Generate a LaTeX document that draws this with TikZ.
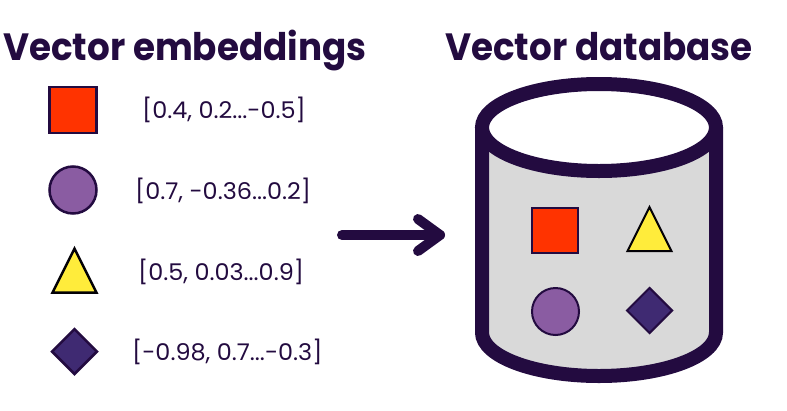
\documentclass[tikz,border=0pt]{standalone}
\usepackage{fontspec}
\setmainfont{Poppins}
\usetikzlibrary{shapes.geometric}
\definecolor{ink}{HTML}{230B40}
\definecolor{sqred}{HTML}{FF3300}
\definecolor{circpurple}{HTML}{8A5CA2}
\definecolor{triyellow}{HTML}{FFEC3B}
\definecolor{diapurple}{HTML}{3F2A72}
\definecolor{dbgray}{HTML}{D9D9D9}
\newcommand{\ttlbox}[1]{\scalebox{0.94}[1]{#1}}
\newcommand{\vecbox}[1]{\scalebox{1.04}[1]{#1}}
\tikzset{
  title/.style={font=\fontsize{38}{38}\selectfont\bfseries, text=ink, inner sep=0pt, anchor=base west},
  vec/.style={font=\fontsize{23}{23}\selectfont, text=ink, inner sep=0pt},
  shp/.style={draw=ink, line width=2.5pt, inner sep=0pt},
  sq/.style={shp, rectangle, fill=sqred, minimum width=47pt, minimum height=46pt},
  circ/.style={shp, circle, fill=circpurple, minimum size=47pt},
  tri/.style={shp, draw=black!90!ink, isosceles triangle, shape border rotate=90, isosceles triangle stretches, fill=triyellow, minimum width=44pt, minimum height=44pt},
  dia/.style={shp, diamond, fill=diapurple, minimum size=46pt},
  thick line/.style={draw=ink, line width=10pt, line cap=round, line join=round},
  dbline/.style={draw=ink, line width=14pt},
}
\begin{document}
\begin{tikzpicture}[x=1pt,y=-1pt]
\useasboundingbox (0,0) rectangle (787,410);
% titles
\node[title] (t1) at (3,60) {\ttlbox{Vector embeddings}};
\node[title] (t2) at (445,60) {\ttlbox{Vector database}};
% legend
\node[sq] (s1) at (73,110) {};
\node[vec, anchor=west] (v1) at (142,110) {\vecbox{[0.4, 0.2...-0.5]}};
\node[circ] (c1) at (73,190) {};
\node[vec, anchor=west] (v2) at (135,191) {\vecbox{[0.7, -0.36...0.2]}};
\node[tri] (tr1) at (74.5,279) {};
\node[vec, anchor=west] (v3) at (138,272) {\vecbox{[0.5, 0.03...0.9]}};
\node[dia] (d1) at (74.5,351.5) {};
\node[vec, anchor=west] (v4) at (132,352) {\vecbox{[-0.98, 0.7...-0.3]}};
% arrow
\coordinate (a0) at (342,235);
\coordinate (a1) at (440,235);
\draw[thick line] (a0) -- (a1);
\draw[thick line] (a1) ++(-22,-16) -- (a1) -- ++(-22,16);
% cylinder
\fill[dbgray] (482,127.5) -- (482,332.5) arc[start angle=180, end angle=0, x radius=117, y radius=43.5] -- (716,127.5) -- cycle;
\draw[dbline] (482,127.5) -- (482,332.5) arc[start angle=180, end angle=0, x radius=117, y radius=43.5] -- (716,127.5);
\draw[dbline, fill=white] (599,127.5) ellipse[x radius=117, y radius=43.5];
% contents
\node[sq, line width=2pt, minimum width=46pt, minimum height=45pt] (s2) at (555,230.5) {};
\node[tri, line width=2pt] (tr2) at (649.5,237.5) {};
\node[circ, line width=2pt] (c2) at (555.5,311.5) {};
\node[dia, line width=2pt] (d2) at (649.5,310.5) {};
\end{tikzpicture}
\end{document}
